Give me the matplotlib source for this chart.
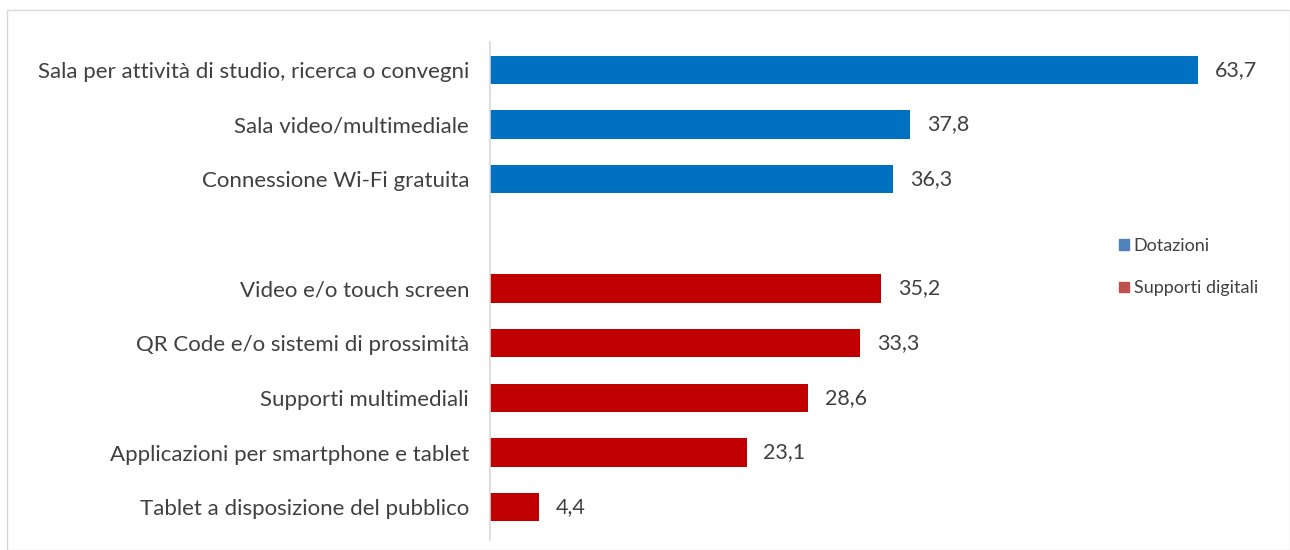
import matplotlib
matplotlib.use("Agg")
from matplotlib import pyplot as plt
from matplotlib.patches import Patch, Rectangle
import numpy as np

plt.rcParams['font.family'] = ['Lato', 'DejaVu Sans']

dotazioni_labels = ['Sala per attività di studio, ricerca o convegni',
                    'Sala video/multimediale',
                    'Connessione Wi-Fi gratuita']
dotazioni_values = [63.7, 37.8, 36.3]

supporti_labels = ['Video e/o touch screen',
                   'QR Code e/o sistemi di prossimità',
                   'Supporti multimediali',
                   'Applicazioni per smartphone e tablet',
                   'Tablet a disposizione del pubblico']
supporti_values = [35.2, 33.3, 28.6, 23.1, 4.4]

legend_labels = ['Dotazioni', 'Supporti digitali']

blue = '#0070C0'
red = '#C00000'
text_col = '#404040'

fig = plt.figure(figsize=(12.9, 5.5), dpi=100)
# chart border
fig.patches.append(Rectangle((7/1290, 0), 1 - 7/1290, 1 - 10/550, transform=fig.transFigure,
                             fill=False, edgecolor='#d9d9d9', linewidth=1))

ax = fig.add_axes([490/1290, 10/550, 778/1290, 498/550])

pos_d = np.arange(len(dotazioni_values))
pos_s = np.arange(len(supporti_values)) + len(dotazioni_values) + 1

ax.barh(pos_d, dotazioni_values, height=0.52, color=blue)
ax.barh(pos_s, supporti_values, height=0.52, color=red)

for p, v in zip(list(pos_d) + list(pos_s), dotazioni_values + supporti_values):
    ax.annotate(f'{v:.1f}'.replace('.', ','), (v, p), xytext=(12, 0), textcoords='offset points',
                va='center', ha='left', fontsize=15.5, color=text_col)

ax.set_yticks(list(pos_d) + list(pos_s))
ax.set_yticklabels(dotazioni_labels + supporti_labels, fontsize=16, color=text_col)
ax.tick_params(axis='y', length=0, pad=15)
ax.set_xticks([])
ax.set_xlim(0, 70)
ax.set_ylim(8.6, -0.51)
for s in ['top', 'right', 'bottom']:
    ax.spines[s].set_visible(False)
ax.spines['left'].set_color('#d9d9d9')
ax.spines['left'].set_linewidth(1.2)

handles = [Patch(color='#4F81BD'), Patch(color='#C0504D')]
fig.legend(handles, legend_labels, loc='upper left', bbox_to_anchor=(1103/1290, 1 - 222/550),
           frameon=False, fontsize=13, handlelength=0.55, handleheight=0.55, handletextpad=0.25,
           labelspacing=1.45, labelcolor=text_col)

plt.savefig('out.png', dpi=100)
